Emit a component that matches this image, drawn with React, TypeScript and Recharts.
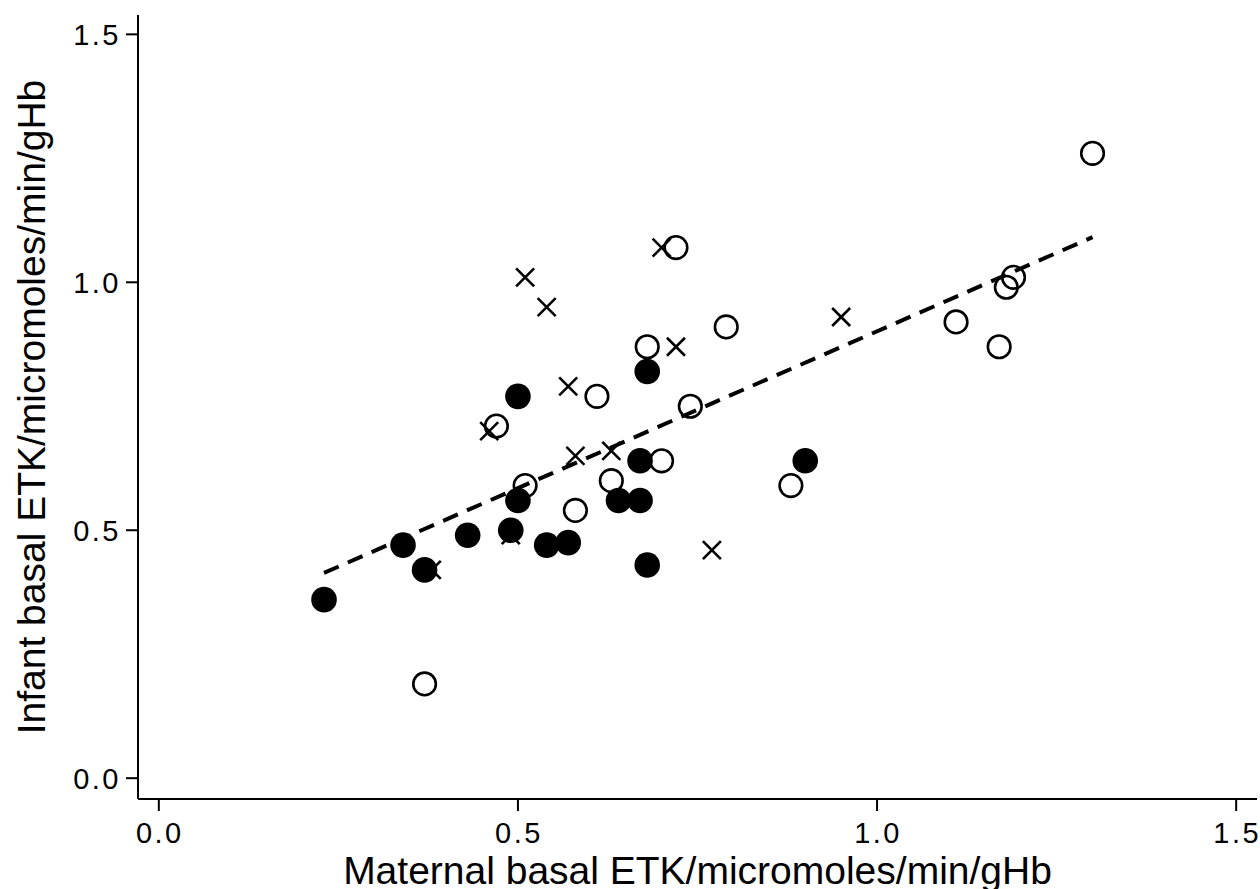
import React from 'react';
import { ScatterChart, Scatter, XAxis, YAxis } from 'recharts';

// maternal (x) vs infant (y) basal ETK, three groups
const openX = [1.30, 0.72, 1.11, 0.79, 0.68, 1.17, 1.18, 1.19, 0.61, 0.74, 0.47, 0.70, 0.51, 0.63, 0.58, 0.88, 0.37];
const openY = [1.26, 1.07, 0.92, 0.91, 0.87, 0.87, 0.99, 1.01, 0.77, 0.75, 0.71, 0.64, 0.59, 0.60, 0.54, 0.59, 0.19];

const filledX = [0.23, 0.34, 0.37, 0.43, 0.49, 0.50, 0.50, 0.54, 0.57, 0.64, 0.67, 0.67, 0.68, 0.68, 0.90];
const filledY = [0.36, 0.47, 0.42, 0.49, 0.50, 0.56, 0.77, 0.47, 0.475, 0.56, 0.56, 0.64, 0.43, 0.82, 0.64];

const crossX = [0.51, 0.54, 0.70, 0.72, 0.57, 0.46, 0.58, 0.63, 0.77, 0.95, 0.38, 0.49];
const crossY = [1.01, 0.95, 1.07, 0.87, 0.79, 0.70, 0.65, 0.66, 0.46, 0.93, 0.42, 0.49];

// fitted regression line end points
const fitX = [0.23, 1.30];
const fitY = [0.414, 1.091];

const axisTicks = [0, 0.5, 1.0, 1.5];

const toPoints = (xs: number[], ys: number[]) => xs.map((x, i) => ({ x, y: ys[i] }));

const FONT = '"Liberation Sans", Arial, Helvetica, sans-serif';
const tickStyle = { fontSize: '29px', fontFamily: FONT, letterSpacing: '2.5px' };

const OpenDot = (props: any) => (
  <circle cx={props.cx} cy={props.cy} r={11.3} fill="none" stroke="#000" strokeWidth={2.6} />
);

const FilledDot = (props: any) => <circle cx={props.cx} cy={props.cy} r={12.8} fill="#000" />;

const Cross = (props: any) => {
  const { cx, cy } = props;
  const s = 9;
  return (
    <g stroke="#000" strokeWidth={2.6}>
      <line x1={cx - s} y1={cy - s} x2={cx + s} y2={cy + s} />
      <line x1={cx - s} y1={cy + s} x2={cx + s} y2={cy - s} />
    </g>
  );
};

const NoDot = () => <g />;

const XTick = (props: any) => (
  <text x={props.x + 1} y={props.y + 21} textAnchor="middle" fill="#000" style={tickStyle}>
    {props.payload.value.toFixed(1)}
  </text>
);

const YTick = (props: any) => (
  <text x={props.x} y={props.y + 10.5} textAnchor="end" fill="#000" style={tickStyle}>
    {props.payload.value.toFixed(1)}
  </text>
);

const XTitle = (props: any) => {
  const vb = props.viewBox;
  return (
    <text x={vb.x + vb.width / 2} y={vb.y + 85} textAnchor="middle" fill="#000" style={{ fontSize: '39px', fontFamily: FONT }}>
      Maternal basal ETK/micromoles/min/gHb
    </text>
  );
};

const YTitle = (props: any) => {
  const vb = props.viewBox;
  const cy = vb.y + vb.height / 2;
  return (
    <text x={45} y={cy} transform={`rotate(-90, 45, ${cy})`} textAnchor="middle" fill="#000" style={{ fontSize: '39px', fontFamily: FONT }}>
      Infant basal ETK/micromoles/min/gHb
    </text>
  );
};

export default function App() {
  return (
    <div style={{ position: 'absolute', left: 0, top: 0, background: '#fff' }}>
      <ScatterChart width={1260} height={889} margin={{ top: 15, right: 3, bottom: 0, left: 0 }}>
        <XAxis
          type="number"
          dataKey="x"
          domain={[-0.029, 1.529]}
          ticks={axisTicks}
          allowDataOverflow
          height={90}
          tickSize={12}
          tickMargin={11}
          axisLine={{ stroke: '#000', strokeWidth: 2 }}
          tickLine={{ stroke: '#000', strokeWidth: 2 }}
          tick={<XTick />}
          label={<XTitle />}
        />
        <YAxis
          type="number"
          dataKey="y"
          domain={[-0.042, 1.539]}
          ticks={axisTicks}
          allowDataOverflow
          width={138}
          tickSize={12}
          tickMargin={5}
          axisLine={{ stroke: '#000', strokeWidth: 2 }}
          tickLine={{ stroke: '#000', strokeWidth: 2 }}
          tick={<YTick />}
          label={<YTitle />}
        />
        <Scatter data={toPoints(crossX, crossY)} shape={<Cross />} isAnimationActive={false} />
        <Scatter data={toPoints(openX, openY)} shape={<OpenDot />} isAnimationActive={false} />
        <Scatter data={toPoints(filledX, filledY)} shape={<FilledDot />} isAnimationActive={false} />
        <Scatter
          data={toPoints(fitX, fitY)}
          shape={<NoDot />}
          line={{ stroke: '#000', strokeWidth: 4, strokeDasharray: '16 10' }}
          isAnimationActive={false}
        />
      </ScatterChart>
    </div>
  );
}
